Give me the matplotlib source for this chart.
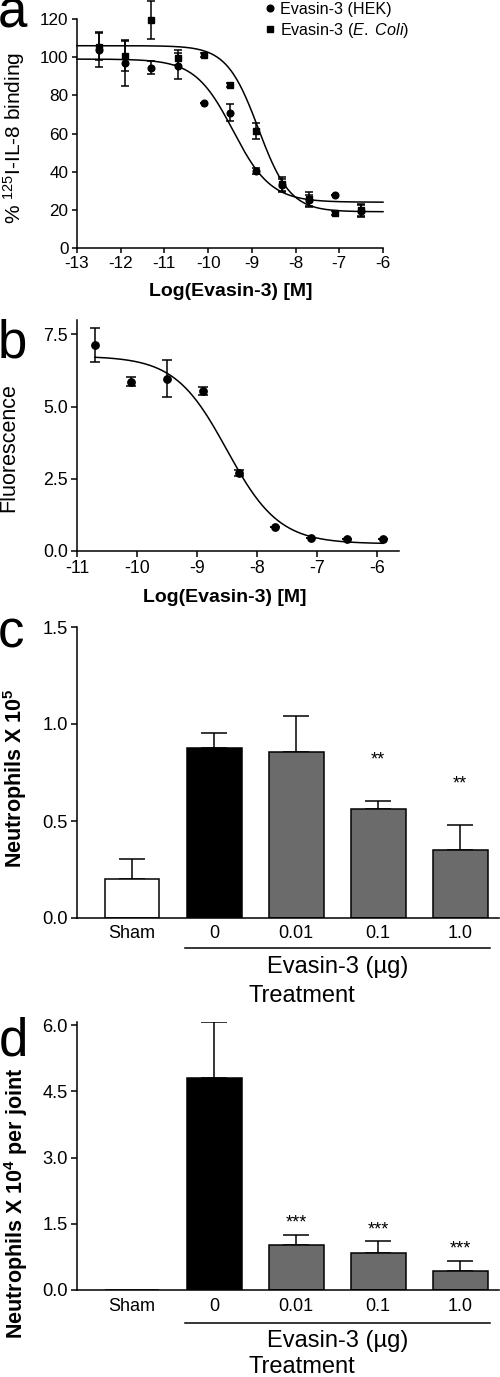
import numpy as np
import matplotlib
matplotlib.use("Agg")
import matplotlib.pyplot as plt
from matplotlib.transforms import blended_transform_factory

plt.rcParams['font.family'] = ['Liberation Sans', 'DejaVu Sans']
plt.rcParams['mathtext.fontset'] = 'custom'
plt.rcParams['mathtext.rm'] = 'Liberation Sans'
plt.rcParams['mathtext.it'] = 'Liberation Sans:italic'
plt.rcParams['mathtext.bf'] = 'Liberation Sans:bold'
plt.rcParams['mathtext.default'] = 'regular'
plt.rcParams['axes.unicode_minus'] = False

# ---------------------------------------------------------------------------
# data: panel a (competition binding)
# ---------------------------------------------------------------------------
log_conc_a = [-12.5, -11.9, -11.3, -10.7, -10.1, -9.5, -8.9, -8.3, -7.7, -7.1, -6.5]
hek_binding = [104, 97, 94.5, 95.3, 76, 71, 40.5, 33, 25, 28, 19.5]
hek_err = [9, 12, 3.5, 7, 0, 4.5, 1.5, 3, 3, 0, 3]
ecoli_binding = [105.5, 100.5, 119.5, 99.8, 101, 85.5, 61.3, 33.4, 25.5, 18.5, 20]
ecoli_err = [7, 8, 10, 4, 1, 1, 4, 4, 4, 1, 3]
# fitted sigmoid parameters (top, bottom, logIC50, hill)
hek_fit = (99, 24, -9.43, 1.0)
ecoli_fit = (106, 19, -8.85, 1.2)

# ---------------------------------------------------------------------------
# data: panel b (fluorescence)
# ---------------------------------------------------------------------------
log_conc_b = [-10.7, -10.1, -9.5, -8.9, -8.3, -7.7, -7.1, -6.5, -5.9]
fluor = [7.13, 5.86, 5.96, 5.54, 2.69, 0.83, 0.45, 0.43, 0.42]
fluor_err = [0.58, 0.15, 0.64, 0.15, 0.1, 0.0, 0.0, 0.0, 0.0]
fluor_fit = (6.75, 0.25, -8.5, 1.0)

# ---------------------------------------------------------------------------
# data: panels c and d (bar charts)
# ---------------------------------------------------------------------------
treatments = ['Sham', '0', '0.01', '0.1', '1.0']
neut_c = [0.2, 0.874, 0.855, 0.562, 0.35]
neut_c_err = [0.103, 0.078, 0.188, 0.041, 0.13]
stars_c = ['', '', '', '**', '**']
neut_d = [0, 4.81, 1.02, 0.83, 0.44]
neut_d_err = [0, 1.27, 0.23, 0.28, 0.22]
stars_d = ['', '', '***', '***', '***']
bar_colors = ['white', 'black', '#6b6b6b', '#6b6b6b', '#6b6b6b']

W, H = 500, 1377
fig = plt.figure(figsize=(W / 100, H / 100), dpi=100)


def rect_px(l, t, r, b):
    return [l / W, 1 - b / H, (r - l) / W, (b - t) / H]


def fx(x):
    return x / W


def fy(y):
    return 1 - y / H


def sigmoid(x, p):
    top, bottom, ic50, hill = p
    return bottom + (top - bottom) / (1 + 10 ** ((x - ic50) * hill))


def style_axes(ax, tick_len, tick_size):
    for s in ['top', 'right']:
        ax.spines[s].set_visible(False)
    for s in ['left', 'bottom']:
        ax.spines[s].set_linewidth(1.1)
    ax.tick_params(direction='out', length=tick_len, width=1.1,
                   labelsize=tick_size, pad=2.5)


# ---------------------------------------------------------------------------
# panel a
# ---------------------------------------------------------------------------
ax_a = fig.add_axes(rect_px(77, 19, 383, 248))
style_axes(ax_a, 3.6, 12.3)
xs = np.linspace(-13, -6, 300)
ax_a.plot(xs, sigmoid(xs, hek_fit), color='black', lw=1.1)
ax_a.plot(xs, sigmoid(xs, ecoli_fit), color='black', lw=1.1)
h1 = ax_a.errorbar(log_conc_a, hek_binding, yerr=hek_err, fmt='o', color='black',
                   ms=4.8, capsize=2.6, elinewidth=1.1, capthick=1.1)
h2 = ax_a.errorbar(log_conc_a, ecoli_binding, yerr=ecoli_err, fmt='s', color='black',
                   ms=4.6, capsize=2.6, elinewidth=1.1, capthick=1.1)
for c in ax_a.get_children():
    try:
        c.set_clip_on(False)
    except Exception:
        pass
ax_a.set_xlim(-13, -6)
ax_a.set_ylim(0, 120)
ax_a.set_xticks(range(-13, -5))
ax_a.set_yticks(range(0, 121, 20))
ax_a.legend(handles=[h1[0], h2[0]], labels=['Evasin-3 (HEK)', 'Evasin-3 ($\\it{E.\\ Coli}$)'],
            loc='upper left', bbox_to_anchor=(fx(265), fy(2)),
            bbox_transform=fig.transFigure, frameon=False, fontsize=11.6,
            handlelength=0.6, handletextpad=0.35, borderpad=0, borderaxespad=0,
            labelspacing=0.25)
fig.text(fx(14), fy(138), '% $^{125}$I-IL-8 binding', rotation=90,
         ha='center', va='center', fontsize=15)
fig.text(fx(231), fy(296), 'Log(Evasin-3) [M]', ha='center', va='baseline',
         fontsize=14, fontweight='bold')
fig.text(fx(-2), fy(27), 'a', fontsize=38, ha='left', va='baseline')

# ---------------------------------------------------------------------------
# panel b
# ---------------------------------------------------------------------------
ax_b = fig.add_axes(rect_px(77, 320, 399, 551))
style_axes(ax_b, 4.0, 12.8)
xs = np.linspace(-10.7, -5.9, 300)
ax_b.plot(xs, sigmoid(xs, fluor_fit), color='black', lw=1.1)
ax_b.errorbar(log_conc_b, fluor, yerr=fluor_err, fmt='o', color='black',
              ms=5.3, capsize=3.5, elinewidth=1.1, capthick=1.1, clip_on=False)
ax_b.set_xlim(-11, -5.63)
ax_b.set_ylim(0, 8)
ax_b.set_xticks(range(-11, -5))
ax_b.set_yticks([0, 2.5, 5.0, 7.5])
ax_b.set_yticklabels(['%.1f' % v for v in [0, 2.5, 5.0, 7.5]])
fig.text(fx(9), fy(448), 'Fluorescence', rotation=90, ha='center', va='center',
         fontsize=15.5)
fig.text(fx(225), fy(602), 'Log(Evasin-3) [M]', ha='center', va='baseline',
         fontsize=14, fontweight='bold')
fig.text(fx(-2), fy(358), 'b', fontsize=38, ha='left', va='baseline')


# ---------------------------------------------------------------------------
# panels c and d
# ---------------------------------------------------------------------------
def bar_panel(ax, vals, errs, stars, ylim, yticks, star_pad, bracket_y,
              evasin_y, treat_y, label_pad):
    style_axes(ax, 4.3, 13.2)
    pos = np.arange(len(vals))
    ax.bar(pos, vals, width=0.666, color=bar_colors, edgecolor='black',
           linewidth=1.1, zorder=2)
    errs = np.array(errs)
    vals = np.array(vals)
    keep = errs > 0
    ax.errorbar(pos[keep], vals[keep], yerr=[np.zeros(keep.sum()), errs[keep]],
                fmt='none', ecolor='black', elinewidth=1.1, capsize=9.7,
                capthick=1.1, zorder=1)
    for p, v, e, s in zip(pos, vals, errs, stars):
        if s:
            ax.annotate(s, (p, v + e), xytext=(0, star_pad), textcoords='offset points',
                        ha='center', va='baseline', fontsize=13)
    ax.set_xlim(-0.673, 4.473)
    ax.set_ylim(*ylim)
    ax.set_yticks(yticks)
    ax.set_yticklabels(['%.1f' % v for v in yticks])
    ax.set_xticks(pos)
    ax.set_xticklabels(treatments, fontsize=13)
    ax.tick_params(axis='x', length=0, pad=label_pad)
    tr = blended_transform_factory(ax.transData, fig.transFigure)
    ax.plot([0.64, 4.36], [fy(bracket_y)] * 2, color='black', lw=1.1,
            transform=tr, clip_on=False)
    ax.text(2.5, fy(evasin_y), 'Evasin-3 (µg)', transform=tr, ha='center',
            va='baseline', fontsize=17)
    ax.text(2.07, fy(treat_y), 'Treatment', transform=tr, ha='center',
            va='baseline', fontsize=17)


ax_c = fig.add_axes(rect_px(77, 627, 499, 918))
bar_panel(ax_c, neut_c, neut_c_err, stars_c, (0, 1.5), [0, 0.5, 1.0, 1.5],
          26, 948, 973, 1002, 5)
fig.text(fx(15), fy(778), 'Neutrophils X 10$^{5}$', rotation=90, ha='center',
         va='center', fontsize=15.5, fontweight='bold')
fig.text(fx(-2), fy(647), 'c', fontsize=38, ha='left', va='baseline')

ax_d = fig.add_axes(rect_px(77, 1022, 499, 1290))
bar_panel(ax_d, neut_d, neut_d_err, stars_d, (0, 6.07), [0, 1.5, 3.0, 4.5, 6.0],
          5, 1323, 1347, 1373, 6)
fig.text(fx(16), fy(1203), 'Neutrophils X 10$^{4}$ per joint', rotation=90,
         ha='center', va='center', fontsize=15.5, fontweight='bold')
fig.text(fx(-1), fy(1055), 'd', fontsize=38, ha='left', va='baseline')

fig.savefig('out.png', dpi=100)
